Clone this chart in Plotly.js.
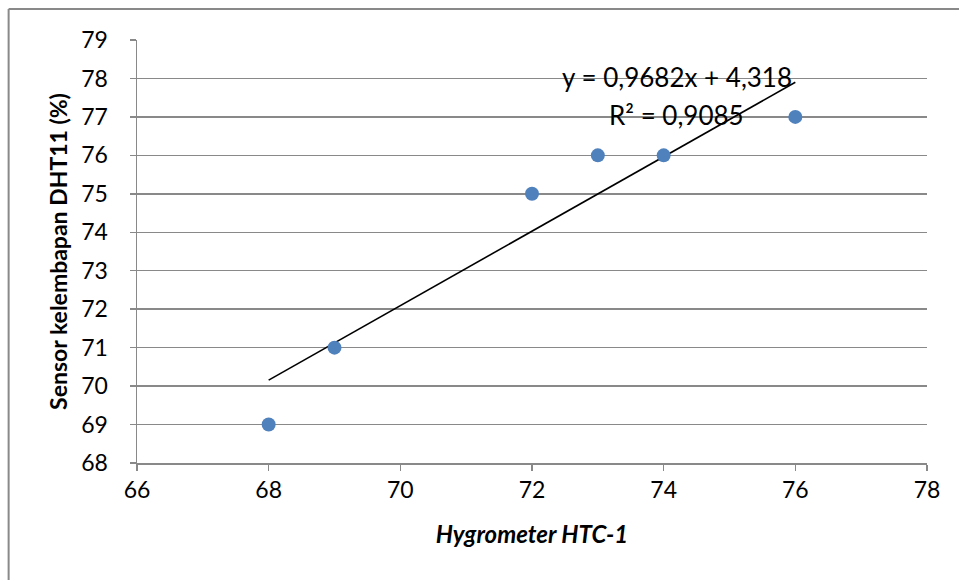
<!DOCTYPE html>
<html>
<head>
<meta charset="utf-8">
<script src="https://cdn.plot.ly/plotly-3.0.1.min.js"></script>
<style>html,body{margin:0;padding:0;background:#fff;}#chart{width:959px;height:580px;}</style>
</head>
<body>
<div id="chart"></div>
<script>
const hygrometer = [68, 69, 72, 73, 74, 76];
const dht11 = [69, 71, 75, 76, 76, 77];
const slope = 0.9682;
const intercept = 4.318;
const trendX = [68, 76];
const xTicks = [66, 68, 70, 72, 74, 76, 78];
const yTicks = [68, 69, 70, 71, 72, 73, 74, 75, 76, 77, 78, 79];
const eqText = 'y = 0,9682x + 4,318';
const r2Text = 'R² = 0,9085';

const font = 'Lato, "Open Sans", sans-serif';
const gray = '#898989';

const traces = [
  {
    x: trendX, y: trendX.map(v => slope * v + intercept),
    mode: 'lines', line: {color: '#000', width: 1.6}, hoverinfo: 'skip', showlegend: false
  },
  {
    x: hygrometer, y: dht11, mode: 'markers',
    marker: {color: '#4F81BD', size: 14}, showlegend: false
  }
];

const layout = {
  width: 959, height: 580,
  margin: {l: 137, r: 32, t: 40, b: 117},
  paper_bgcolor: '#fff', plot_bgcolor: '#fff',
  font: {family: font, size: 23, color: '#000'},
  xaxis: {
    range: [66, 78], tickvals: xTicks, ticktext: xTicks.map(String),
    showgrid: false, zeroline: false,
    showline: true, linecolor: gray, linewidth: 1.5,
    ticks: 'outside', ticklen: 6, tickcolor: gray, tickwidth: 1.5,
    ticklabelstandoff: 0,
    tickfont: {family: font, size: 23},
    title: {text: '<b><i>Hygrometer HTC-1</i></b>', font: {family: font, size: 24}, standoff: 24}
  },
  yaxis: {
    range: [68, 79], tickvals: yTicks, ticktext: yTicks.map(String),
    showgrid: true, gridcolor: gray, gridwidth: 1.5, zeroline: false,
    showline: true, linecolor: gray, linewidth: 1.5,
    ticks: 'outside', ticklen: 6, tickcolor: gray, tickwidth: 1.5,
    ticklabelstandoff: 17,
    tickfont: {family: font, size: 23},
    title: {text: '<b>Sensor kelembapan DHT11 (%)</b>', font: {family: font, size: 23}, standoff: 7}
  },
  annotations: [
    {xref: 'x', yref: 'y', x: 74.2, y: 78.03, text: eqText, showarrow: false,
     font: {family: font, size: 26}, xanchor: 'center', yanchor: 'middle'},
    {xref: 'x', yref: 'y', x: 74.2, y: 77.04, text: r2Text, showarrow: false,
     font: {family: font, size: 26}, xanchor: 'center', yanchor: 'middle'}
  ],
  shapes: [
    {type: 'line', xref: 'paper', yref: 'paper', x0: -0.1625, x1: 1.1, y0: 1.0733, y1: 1.0733,
     line: {color: gray, width: 2}},
    {type: 'line', xref: 'paper', yref: 'paper', x0: -0.1625, x1: -0.1625, y0: 1.0733, y1: -0.3,
     line: {color: gray, width: 2}}
  ]
};

Plotly.newPlot('chart', traces, layout, {displayModeBar: false, staticPlot: true});
</script>
</body>
</html>
